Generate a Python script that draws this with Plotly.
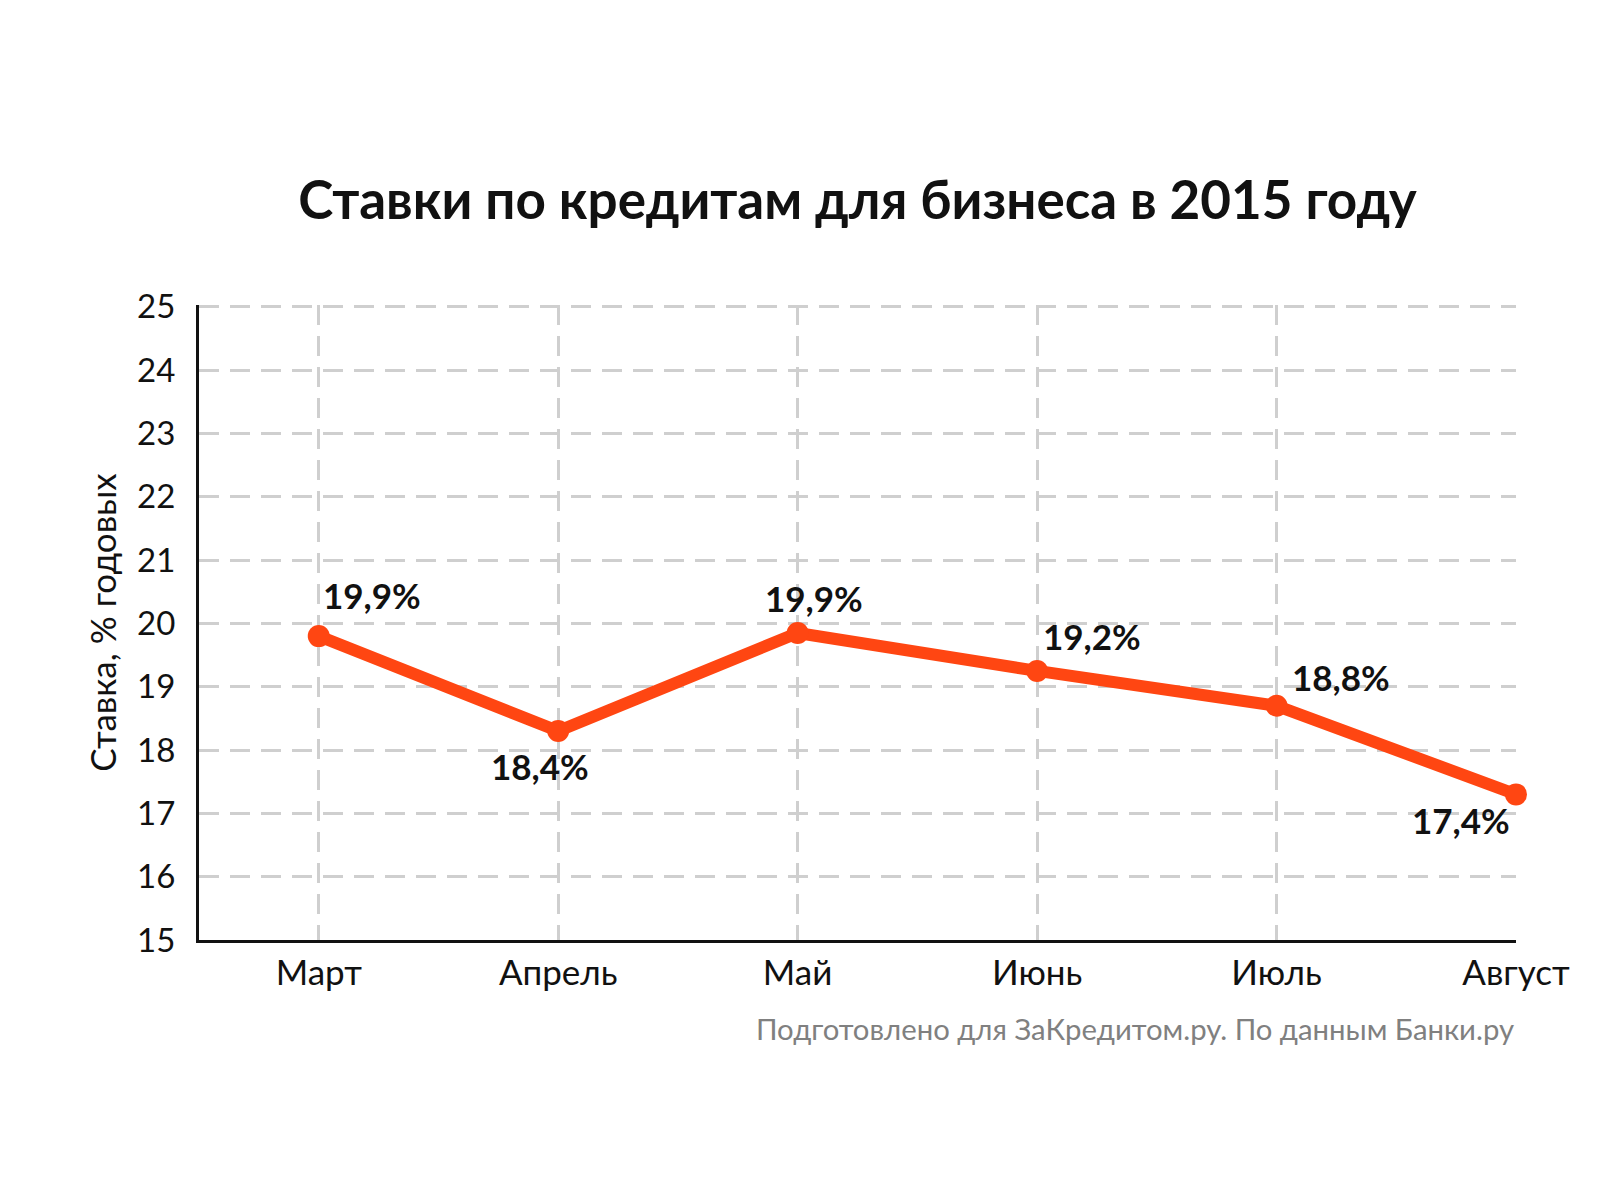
import plotly.graph_objects as go

months = ["Март", "Апрель", "Май", "Июнь", "Июль", "Август"]
rates = [19.8, 18.3, 19.85, 19.25, 18.7, 17.3]
labels = ["19,9%", "18,4%", "19,9%", "19,2%", "18,8%", "17,4%"]
y_ticks = list(range(15, 26))

FONT = "Lato"
ORANGE = "#FF4612"

fig = go.Figure()
fig.add_trace(go.Scatter(
    x=months, y=rates, mode="lines+markers",
    line=dict(color=ORANGE, width=12),
    marker=dict(color=ORANGE, size=22),
    cliponaxis=False, hoverinfo="skip", showlegend=False,
))

# label placement: (xanchor, xshift, yshift)
placement = [("left", 2, 41), ("center", -18, -35), ("center", 16, 35),
             ("left", 4, 35), ("left", 13, 29), ("right", -4, -26)]
for m, r, t, (xa, xs, ys) in zip(months, rates, labels, placement):
    fig.add_annotation(x=m, y=r, text=f"<b>{t}</b>", showarrow=False,
                       xanchor=xa, yanchor="middle", xshift=xs, yshift=ys,
                       font=dict(family=FONT, size=35, color="#111111"))

fig.update_layout(
    width=1615, height=1200,
    paper_bgcolor="white", plot_bgcolor="white",
    margin=dict(l=191, r=107, t=297, b=268),
    title=dict(text="<b>Ставки по кредитам для бизнеса в 2015 году</b>",
               x=0.526, xanchor="center", y=0.840, yanchor="middle",
               font=dict(family=FONT, size=53, color="#111111")),
    font=dict(family=FONT, color="#111111"),
)
fig.update_xaxes(
    type="category", range=[-0.5, 5],
    showgrid=True, gridcolor="#cfcfcf", gridwidth=3, griddash="20px,11px",
    showline=True, linecolor="#111111", linewidth=3,
    tickfont=dict(family=FONT, size=35, color="#111111"),
    ticks="", ticklabelstandoff=0,
)
fig.update_yaxes(
    range=[15, 25.03], tickvals=y_ticks,
    showgrid=True, gridcolor="#cfcfcf", gridwidth=3, griddash="20px,11px",
    showline=True, linecolor="#111111", linewidth=3,
    tickfont=dict(family=FONT, size=33, color="#111111"),
    ticks="", ticklabelstandoff=14, zeroline=False,
    title=dict(text="Ставка, % годовых", font=dict(family=FONT, size=35, color="#111111"), standoff=10),
)
fig.add_annotation(
    text="Подготовлено для ЗаКредитом.ру. По данным Банки.ру",
    xref="paper", yref="paper", x=1.0, y=-0.139, xanchor="right", yanchor="middle",
    showarrow=False, font=dict(family=FONT, size=29.3, color="#808080"),
)
fig.write_html("out.html")
